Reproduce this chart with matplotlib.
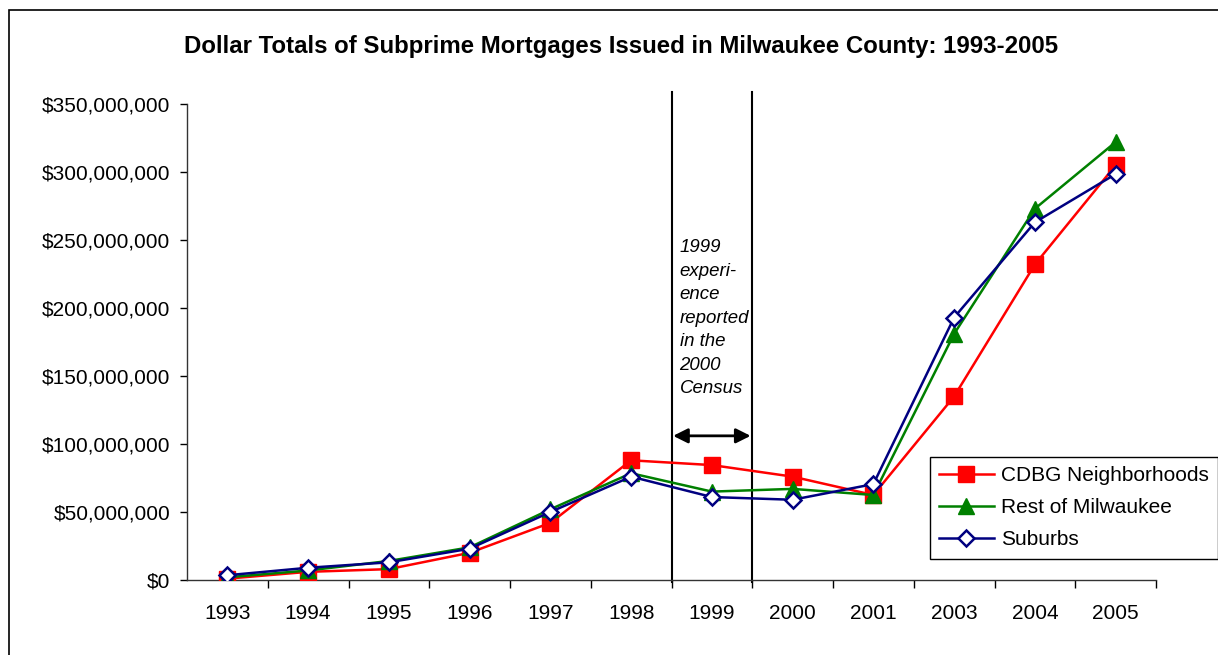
import matplotlib
matplotlib.use("Agg")
import matplotlib.pyplot as plt
from matplotlib.patches import Rectangle
from matplotlib.ticker import FuncFormatter, FixedLocator

plt.rcParams["font.family"] = ["Liberation Sans", "DejaVu Sans"]

years = ["1993", "1994", "1995", "1996", "1997", "1998", "1999",
         "2000", "2001", "2003", "2004", "2005"]
cdbg = [1e6, 6e6, 8e6, 20e6, 42e6, 88e6, 84.5e6, 76e6, 62.5e6, 135e6, 232e6, 305e6]
rest = [2e6, 7e6, 14e6, 24e6, 52e6, 78.5e6, 65e6, 67e6, 62.5e6, 181e6, 273e6, 322e6]
suburbs = [3.5e6, 9e6, 13e6, 23e6, 50e6, 76e6, 61e6, 59e6, 70.5e6, 193e6, 263e6, 298.5e6]
y_ticks = [0, 50e6, 100e6, 150e6, 200e6, 250e6, 300e6, 350e6]
note = "1999\nexperi-\nence\nreported\nin the\n2000\nCensus"

W, H = 1218, 655
fig = plt.figure(figsize=(W / 100, H / 100), dpi=100)
fig.patches.append(Rectangle((9 / W, -0.1), 1.2, 1 - 10 / H + 0.1,
                             transform=fig.transFigure, fill=False,
                             edgecolor="black", lw=1.2))

ax = fig.add_axes([187 / W, 1 - 580 / H, (1156 - 187) / W, (580 - 104) / H])
x = list(range(len(years)))

ax.plot(x, cdbg, color="#ff0000", lw=1.8, marker="s", ms=11,
        mfc="#ff0000", mec="#ff0000", label="CDBG Neighborhoods", zorder=3)
ax.plot(x, rest, color="#008000", lw=1.8, marker="^", ms=11,
        mfc="#008000", mec="#008000", label="Rest of Milwaukee", zorder=4)
ax.plot(x, suburbs, color="#000080", lw=1.8, marker="D", ms=8.5,
        mfc="white", mec="#000080", mew=1.8, label="Suburbs", zorder=5)

ax.set_xlim(-0.5, len(years) - 0.5)
ax.set_ylim(0, 350e6)
ax.set_yticks(y_ticks)
ax.yaxis.set_major_formatter(FuncFormatter(lambda v, p: "${:,.0f}".format(v)))
ax.set_xticks(x)
ax.set_xticklabels(years)
ax.xaxis.set_minor_locator(FixedLocator([i + 0.5 for i in range(len(years))]))
ax.tick_params(axis="x", which="major", length=0, pad=17, labelsize=15)
ax.tick_params(axis="x", which="minor", length=6, direction="out", width=1)
ax.tick_params(axis="y", length=5, width=1, labelsize=15, pad=7)

for side in ["top", "right"]:
    ax.spines[side].set_visible(False)
for side in ["left", "bottom"]:
    ax.spines[side].set_linewidth(1)
    ax.spines[side].set_color("#333333")

# census window
for bx in [5.5, 6.5]:
    ax.plot([bx, bx], [-1.5e6, 359e6], color="black", lw=1.5,
            clip_on=False, zorder=2)
ax.annotate("", xy=(5.52, 106e6), xytext=(6.48, 106e6),
            arrowprops=dict(arrowstyle="<|-|>", color="black", lw=2,
                            mutation_scale=22, shrinkA=0, shrinkB=0))
ax.text(5.6, 250.5e6, note, fontsize=13.4, style="italic", va="top", ha="left",
        linespacing=1.5)

ax.legend(loc="upper left", bbox_to_anchor=(930 / W, 1 - 457 / H),
          bbox_transform=fig.transFigure, fontsize=15, frameon=True,
          fancybox=False, edgecolor="black", framealpha=1,
          handlelength=2.6, borderpad=0.45, labelspacing=0.62,
          handletextpad=0.35, borderaxespad=0)

fig.text(621 / W, 1 - 46 / H, "Dollar Totals of Subprime Mortgages Issued in Milwaukee County: 1993-2005",
         ha="center", va="center", fontsize=17.3, fontweight="bold")

fig.savefig("out.png", dpi=100)
